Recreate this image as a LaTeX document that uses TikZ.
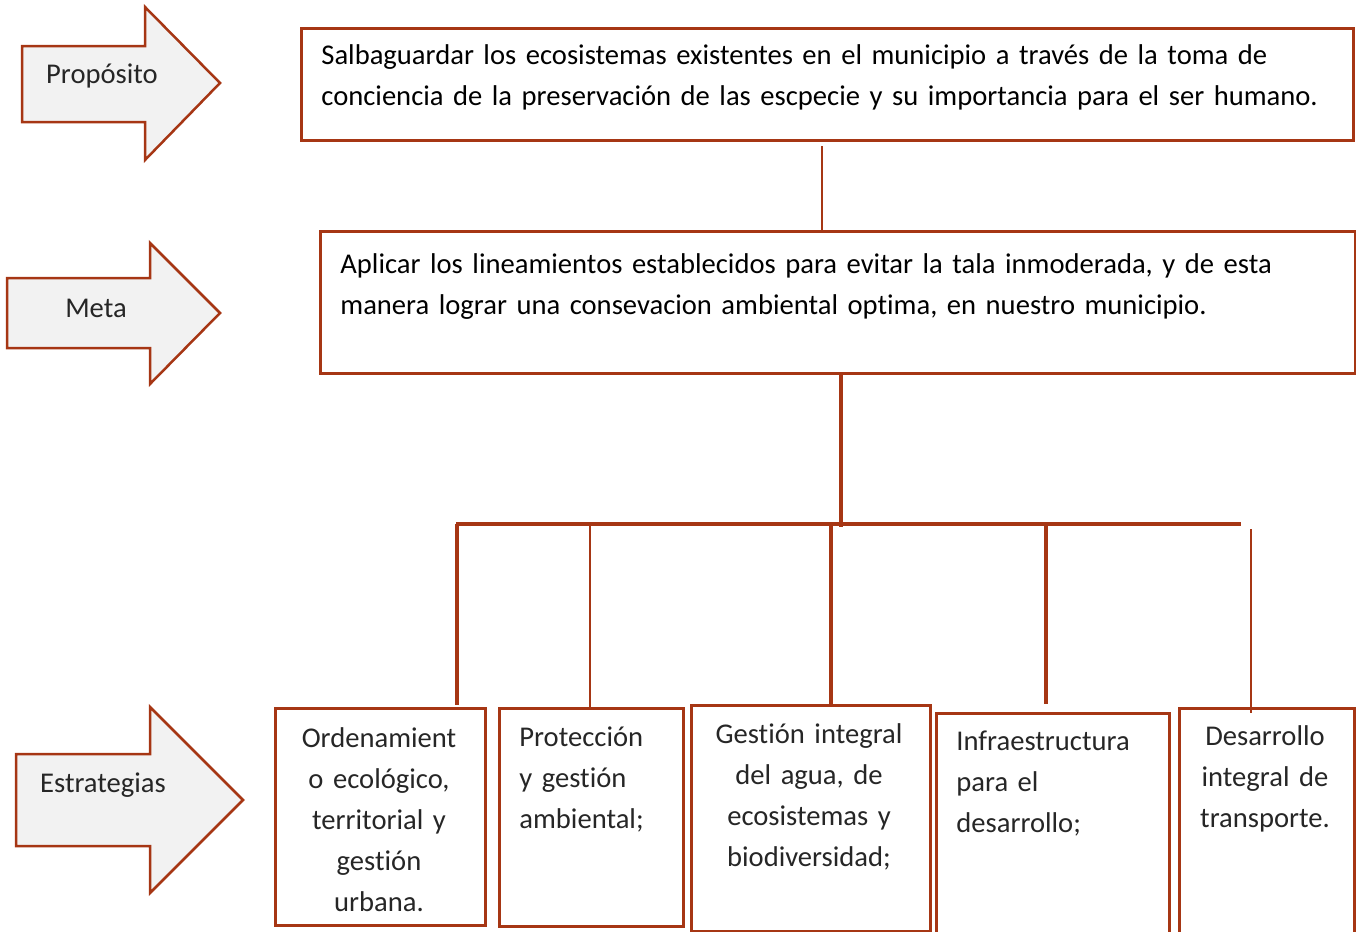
\documentclass[tikz,border=0pt]{standalone}
\usepackage{fontspec}
\setmainfont{Carlito}[Ligatures=NoCommon]
\usepackage{tikz}
\usetikzlibrary{calc,positioning}
\usepackage{xcolor}
\definecolor{rust}{RGB}{166,54,20}
\definecolor{arrowfill}{RGB}{242,242,242}
\definecolor{inkgray}{RGB}{38,38,38}
\newcommand{\boxfont}{\fontsize{14.3}{20.5}\selectfont\spaceskip=2.9pt plus 1pt minus 0.5pt\relax}

\begin{document}
\begin{tikzpicture}[x=0.5pt,y=-0.5pt,
  box/.style={draw=rust, line width=1.25pt, rectangle, inner sep=0pt, anchor=north west},
  txt/.style={inner sep=0pt, font=\boxfont},
  lbl/.style={txt, anchor=base, text=inkgray},
  bigarrow/.style={draw=rust, line width=1.25pt, fill=arrowfill, line join=miter},
  link/.style={draw=rust, line width=2pt},
  thinlink/.style={draw=rust, line width=1.2pt}]
\useasboundingbox (0,0) rectangle (1356,932);
% side arrows
\draw[bigarrow] (22,46) -- (145,46) -- (145,7) -- (220,83) -- (145,160) -- (145,122) -- (22,122) -- cycle;
\draw[bigarrow] (7,278) -- (150,278) -- (150,243) -- (220,313) -- (150,384) -- (150,348) -- (7,348) -- cycle;
\draw[bigarrow] (16,754) -- (150,754) -- (150,707) -- (243,800) -- (150,893) -- (150,846) -- (16,846) -- cycle;
\node[lbl] (proplbl) at (102,83) {Propósito};
\node[lbl] (metalbl) at (96,317) {Meta};
\node[lbl] (estlbl) at (103,792) {Estrategias};
% propósito y meta
\node[box, minimum width=526pt, minimum height=56pt] (prop) at (300,27) {};
\node[txt, anchor=base west, text width=515pt, align=left] (proptext) at (321,64)
  {Salbaguardar los ecosistemas existentes en el municipio a través de la toma de\\
   conciencia de la preservación de las escpecie y su importancia para el ser humano.};
\node[box, minimum width=517.5pt, minimum height=71pt] (meta) at (319,230) {};
\node[txt, anchor=base west, text width=505pt, align=left] (metatext) at (340,273)
  {Aplicar los lineamientos establecidos para evitar la tala inmoderada, y de esta\\
   manera lograr una consevacion ambiental optima, en nuestro municipio.};
% estrategias
\node[box, minimum width=105pt, minimum height=108.5pt] (s1) at (274,707) {};
\node[box, minimum width=92pt, minimum height=109pt] (s2) at (498,707) {};
\node[box, minimum width=119.5pt, minimum height=113pt] (s3) at (690,704) {};
\node[box, minimum width=116.5pt, minimum height=114pt] (s4) at (935,712) {};
\node[box, minimum width=87.5pt, minimum height=116.5pt] (s5) at (1178,707) {};
\node[lbl, text width=104pt, align=center] (s1text) at (379,747)
  {Ordenamient\\o ecológico,\\territorial y\\gestión\\urbana.};
\node[lbl, anchor=base west, text width=88pt, align=left] (s2text) at (519,746)
  {Protección\\y gestión\\ambiental;};
\node[lbl, text width=119pt, align=center] (s3text) at (809,743)
  {Gestión integral\\del agua, de\\ecosistemas y\\biodiversidad;};
\node[lbl, anchor=base west, text width=110pt, align=left] (s4text) at (956,750)
  {Infraestructura\\para el\\desarrollo;};
\node[lbl, text width=87pt, align=center] (s5text) at (1265,745)
  {Desarrollo\\integral de\\transporte.};
% conectores
\coordinate (pm) at (822,146);
\coordinate (mb) at (841,372);
\coordinate (barW) at (456,524);
\coordinate (barE) at (1241,524);
\coordinate (j1) at (457,524);
\coordinate (j2) at (590,524);
\coordinate (j3) at (831,524);
\coordinate (j4) at (1046,522);
\coordinate (j5) at (1251,529);
\draw[thinlink] (pm) -- (pm |- meta.north);
\draw[link] (mb) -- ($(mb |- barW)+(0,3)$);
\draw[link] (barW) -- (barE);
\draw[link] (j1) -- ($(j1 |- s1.north)+(0,-2)$);
\draw[thinlink, line width=1.4pt] (j2) -- (j2 |- s2.north);
\draw[link] (j3) -- (j3 |- s3.north);
\draw[link] (j4) -- ($(j4 |- s4.north)+(0,-8)$);
\draw[thinlink, line width=1.4pt] (j5) -- ($(j5 |- s5.north)+(0,6)$);
\end{tikzpicture}
\end{document}
